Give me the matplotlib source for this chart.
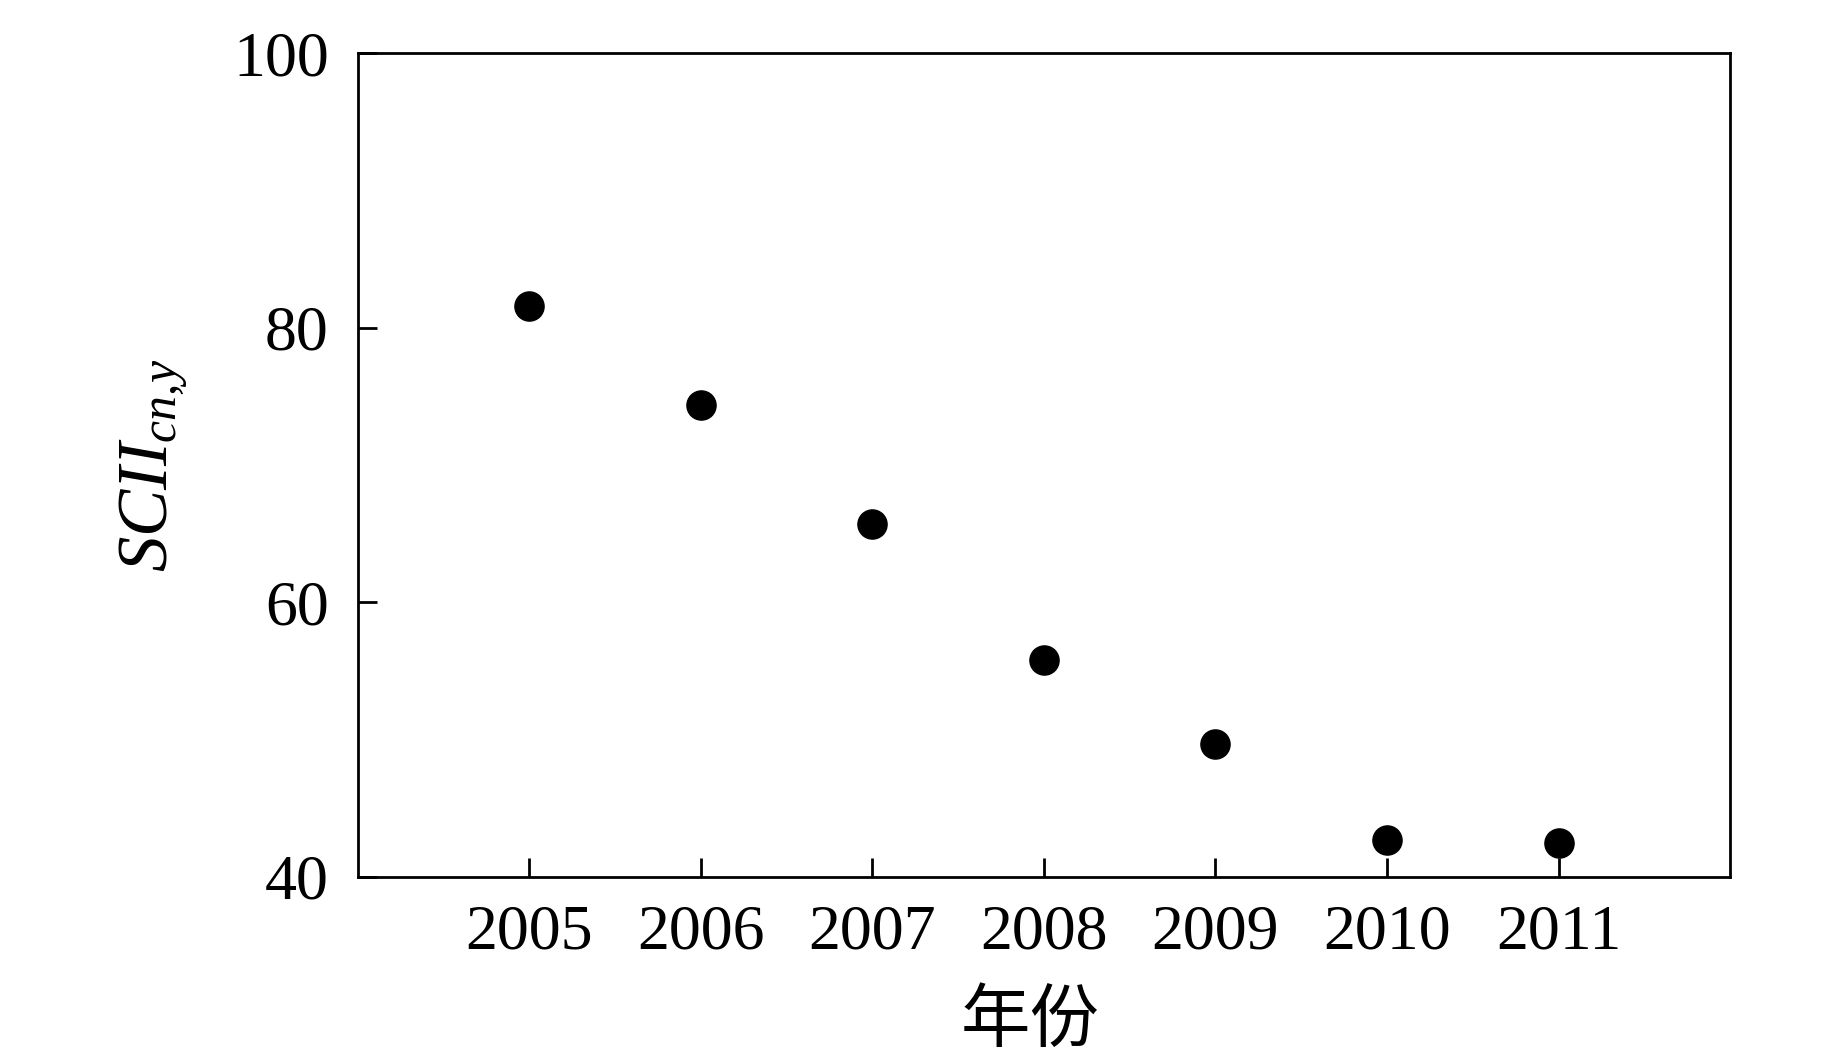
import matplotlib
matplotlib.use('Agg')
import matplotlib.pyplot as plt

plt.rcParams['font.family'] = ['Liberation Serif', 'Noto Sans CJK SC', 'DejaVu Sans']
plt.rcParams['mathtext.fontset'] = 'custom'
plt.rcParams['mathtext.rm'] = 'Liberation Serif'
plt.rcParams['mathtext.it'] = 'Liberation Serif:italic'

# data
years = [2005, 2006, 2007, 2008, 2009, 2010, 2011]
scii = [81.6, 74.4, 65.7, 55.8, 49.7, 42.7, 42.5]
yticks = [40, 60, 80, 100]

fig = plt.figure(figsize=(18.43, 10.63), dpi=100)
ax = fig.add_axes([0.1942, 0.1750, 0.7445, 0.7751])

ax.plot(years, scii, 'o', color='black', markersize=21, linestyle='none')

ax.set_xlim(2004, 2012)
ax.set_ylim(40, 100)
ax.set_xticks(years)
ax.set_yticks(yticks)

for s in ax.spines.values():
    s.set_linewidth(2)

ax.tick_params(axis='both', direction='in', length=14, width=2, labelsize=46)
ax.tick_params(axis='y', pad=21)
ax.tick_params(axis='x', pad=20)

ax.set_xlabel('年份', fontsize=50, family=['Noto Sans CJK SC'], labelpad=16)
ax.xaxis.label.set_x(0.49)
ax.set_ylabel(r'$SCII_{cn{,}y}$', fontsize=51, labelpad=30)

fig.savefig('out.png', dpi=100)
